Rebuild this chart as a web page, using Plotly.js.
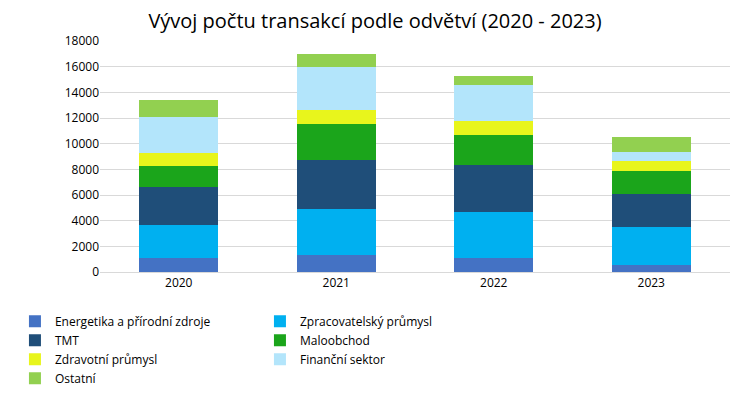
<!DOCTYPE html>
<html>
<head>
<meta charset="utf-8">
<script src="https://cdn.plot.ly/plotly-3.0.1.min.js"></script>
<style>body{margin:0;background:#fff}#chart{width:750px;height:405px}</style>
</head>
<body>
<div id="chart"></div>
<script>
const years = ["2020", "2021", "2022", "2023"];
const seriesNames = ["Energetika a přírodní zdroje", "Zpracovatelský průmysl", "TMT",
  "Maloobchod", "Zdravotní průmysl", "Finanční sektor", "Ostatní"];
const energetika = [1100, 1300, 1100, 550];
const zpracovatelsky = [2600, 3600, 3550, 2950];
const tmt = [2950, 3800, 3650, 2600];
const maloobchod = [1600, 2800, 2400, 1750];
const zdravotni = [1000, 1100, 1050, 800];
const financni = [2850, 3400, 2850, 700];
const ostatni = [1300, 1000, 700, 1150];
const colors = ["#4472C4", "#00B0F0", "#1F4E79", "#1BA51B", "#E8F51C", "#B3E5FB", "#92D050"];

const values = [energetika, zpracovatelsky, tmt, maloobchod, zdravotni, financni, ostatni];
const traces = values.map((v, i) => ({
  x: years, y: v, name: seriesNames[i], type: 'bar',
  marker: { color: colors[i] }, width: 0.5
}));

Plotly.newPlot('chart', traces, {
  width: 750, height: 405,
  barmode: 'stack',
  font: { family: 'Open Sans, sans-serif', size: 12, color: '#000' },
  title: { text: 'Vývoj počtu transakcí podle odvětví (2020 - 2023)', x: 0.5, y: 0.948, yanchor: 'middle', font: { size: 20, color: '#000' } },
  margin: { l: 100, r: 20, t: 41, b: 102 },
  xaxis: { showline: true, linecolor: '#d9d9d9', tickfont: { size: 12 } },
  yaxis: { range: [0, 18000], dtick: 2000, gridcolor: '#d9d9d9', tickformat: 'd', zeroline: false, tickfont: { size: 12 } },
  legend: { orientation: 'h', x: -0.135, xanchor: 'left', y: -0.15, yanchor: 'top',
    entrywidth: 200, entrywidthmode: 'pixels', font: { size: 12 }, traceorder: 'normal',
    tracegroupgap: 0, itemwidth: 30 },
  showlegend: true
}, { displayModeBar: false });
</script>
</body>
</html>
